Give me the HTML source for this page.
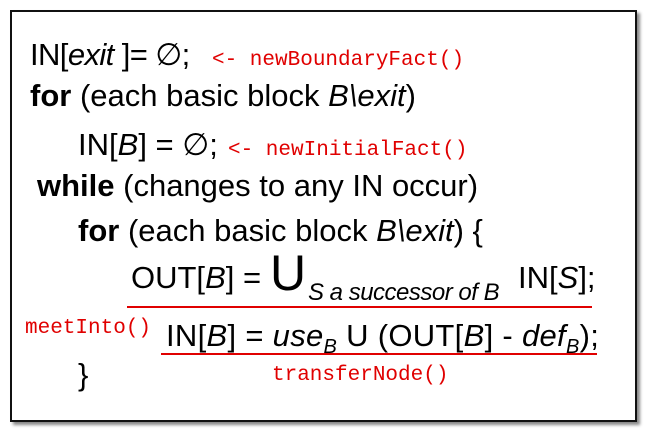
<!DOCTYPE html>
<html><head><meta charset="utf-8"><style>
body{margin:0;width:645px;height:439px;background:#fff;position:relative;overflow:hidden;font-family:"Liberation Sans",Arial,sans-serif;}
.box{position:absolute;left:10px;top:10px;width:623px;height:408px;border:2px solid #111;box-shadow:3px 3px 3px #888;}
.l{position:absolute;font-size:31px;line-height:1;white-space:nowrap;color:#000;letter-spacing:0px}
.r{position:absolute;font-family:"Liberation Mono",monospace;font-size:21px;color:#e00000;white-space:nowrap;line-height:1}
.ln{position:absolute;height:2px;background:#e00000}
i{font-style:italic}
</style></head><body>
<div class="box"></div>
<div class="l" style="left:30px;top:39px;letter-spacing:-0.6px">IN[<i>exit </i>]= ∅;</div>
<div class="r" style="left:212px;top:50px">&lt;- newBoundaryFact()</div>
<div class="l" style="left:30px;top:80px"><b>for</b> (each basic block <i>B\exit</i>)</div>
<div class="l" style="left:78px;top:129px">IN[<i>B</i>] = ∅;</div>
<div class="r" style="left:228px;top:140px">&lt;- newInitialFact()</div>
<div class="l" style="left:37px;top:170px"><b>while</b> (changes to any IN occur)</div>
<div class="l" style="left:78px;top:215px"><b>for</b> (each basic block <i>B\exit</i>) {</div>
<div class="l" style="left:131px;top:262px">OUT[<i>B</i>] =</div>
<div class="l" style="left:270px;top:248px;font-size:50px">U</div>
<div class="l" style="left:308px;top:281px;font-size:24px;letter-spacing:-0.5px"><i>S a successor of B</i></div>
<div class="l" style="left:518px;top:262px">IN[<i>S</i>];</div>
<div class="ln" style="left:127px;top:306px;width:465px"></div>
<div class="r" style="left:25px;top:318px">meetInto()</div>
<div class="l" style="left:166px;top:320px;letter-spacing:0.3px">IN[<i>B</i>] = <i>use<sub style="font-size:20px">B</sub></i> U (OUT[<i>B</i>] - <i>def<sub style="font-size:20px">B</sub></i>);</div>
<div class="ln" style="left:161px;top:353px;width:436px"></div>
<div class="l" style="left:78px;top:359px">}</div>
<div class="r" style="left:272px;top:365px">transferNode()</div>
</body></html>
